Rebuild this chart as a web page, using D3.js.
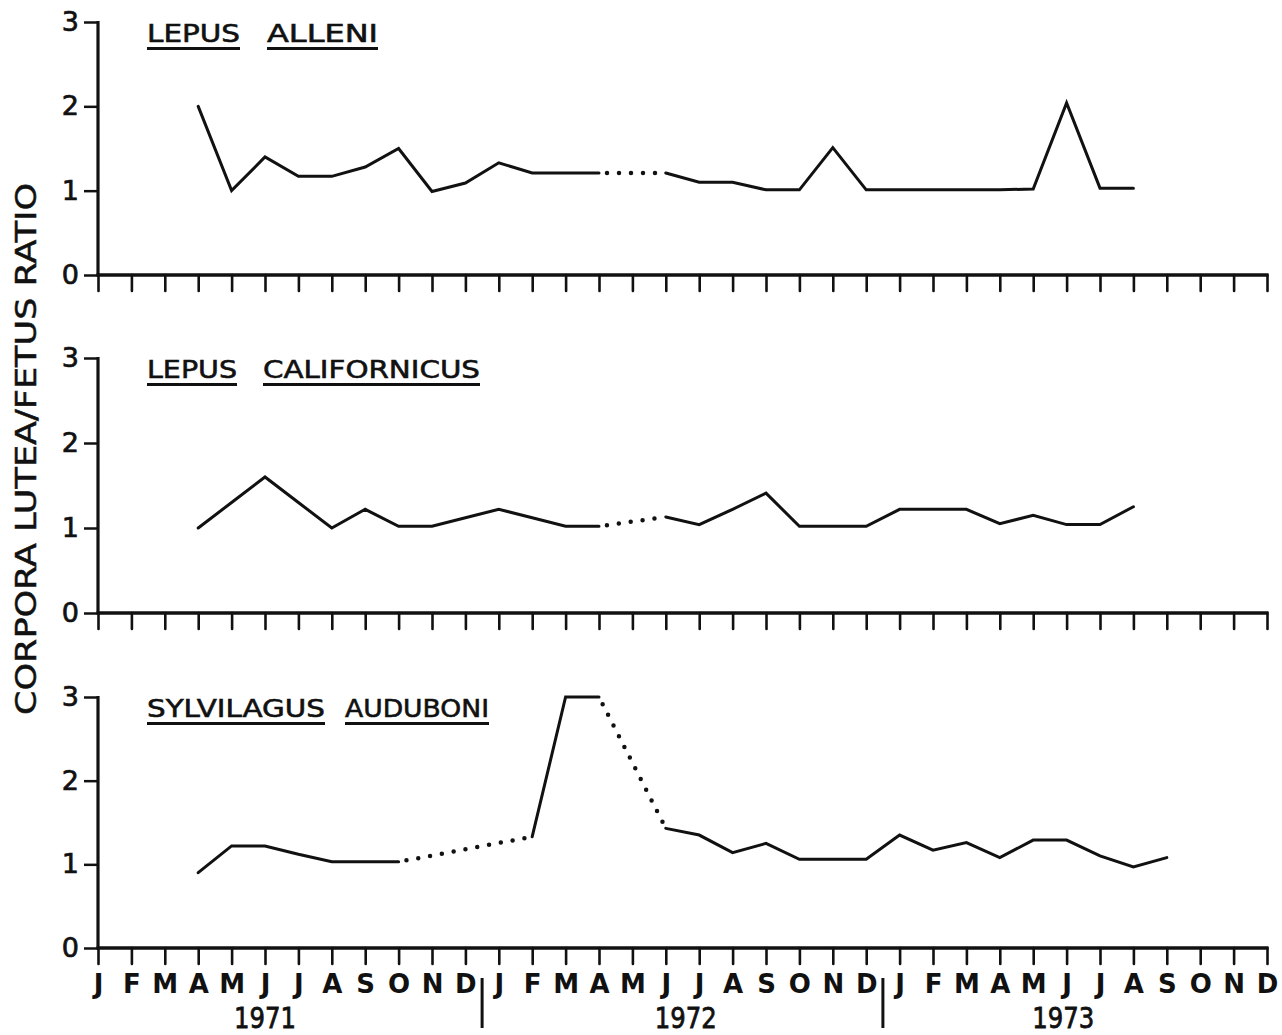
<!DOCTYPE html>
<html>
<head>
<meta charset="utf-8">
<script src="https://cdn.jsdelivr.net/npm/d3@7/dist/d3.min.js"></script>
<style>
  html, body { margin: 0; padding: 0; background: #fff; }
  svg { display: block; }
  text { font-family: "DejaVu Sans", "Liberation Sans", sans-serif; fill: #111; }
</style>
</head>
<body>
<svg id="chart" width="1282" height="1035"></svg>
<script>
// Month letters along the time axis (Jan 1971 .. Dec 1973)
const monthLetters = ["J","F","M","A","M","J","J","A","S","O","N","D"];
const years = ["1971", "1972", "1973"];
const yTicks = [0, 1, 2, 3];

// Species names, each word underlined separately
const speciesNames = [
  ["LEPUS", "ALLENI"],
  ["LEPUS", "CALIFORNICUS"],
  ["SYLVILAGUS", "AUDUBONI"]
];

// Monthly corpora lutea / fetus ratio, index 0 = Jan 1971; null = no sample
const lepusAlleni = [
  null, null, null, 2.0, 1.0, 1.4, 1.17, 1.17, 1.28, 1.5, 0.99, 1.09,
  1.33, 1.21, 1.21, 1.21, null, 1.21, 1.1, 1.1, 1.01, 1.01, 1.51, 1.01,
  1.01, 1.01, 1.01, 1.01, 1.02, 2.04, 1.03, 1.03, null, null, null, null
];
const lepusCalifornicus = [
  null, null, null, 1.0, 1.3, 1.6, 1.3, 1.0, 1.22, 1.02, 1.02, 1.12,
  1.22, 1.12, 1.02, 1.02, null, 1.13, 1.04, 1.22, 1.41, 1.02, 1.02, 1.02,
  1.22, 1.22, 1.22, 1.05, 1.15, 1.04, 1.04, 1.25, null, null, null, null
];
const sylvilagusAuduboni = [
  null, null, null, 0.9, 1.22, 1.22, 1.12, 1.03, 1.03, 1.03, null, null,
  null, 1.33, 3.0, 3.0, null, 1.43, 1.35, 1.14, 1.25, 1.06, 1.06, 1.06,
  1.35, 1.17, 1.26, 1.08, 1.29, 1.29, 1.1, 0.97, 1.08, null, null, null
];

// Months bridged by a dotted line (no sample in between)
const alleniBridges = [[15, 17]];
const californicusBridges = [[15, 17]];
const auduboniBridges = [[9, 13], [15, 17]];

const seriesList = [lepusAlleni, lepusCalifornicus, sylvilagusAuduboni];
const bridgeList = [alleniBridges, californicusBridges, auduboniBridges];

// ---- layout ----
const svg = d3.select("#chart");
const nMonths = monthLetters.length * years.length;
const x = d3.scaleLinear().domain([0, nMonths - 1]).range([98, 1267]);
const panelTop = [22, 358, 697];
const panelBottom = [275, 613, 948];
const yearLabelAt = [5.0, 17.6, 28.9];
const titleWordX = [[147, 267], [147, 263], [147, 345]];
const titleWordW = [[93, 111], [90, 217], [178, 144]];

const ink = "#111";

seriesList.forEach((values, p) => {
  const y = d3.scaleLinear().domain([0, 3]).range([panelBottom[p], panelTop[p]]);
  const g = svg.append("g");

  // y axis: spine + left ticks + labels
  const yAxis = d3.axisLeft(y).tickValues(yTicks).tickSize(14).tickPadding(5)
    .tickFormat(d3.format("d"));
  const ya = g.append("g").attr("transform", `translate(${x(0)},0)`).call(yAxis);
  ya.select(".domain").remove();
  ya.selectAll(".tick line").attr("stroke", ink).attr("stroke-width", 2.5);
  ya.selectAll(".tick text").attr("font-size", 27).attr("fill", ink)
    .attr("stroke", ink).attr("stroke-width", 0.7)
    .style("font-family", "'DejaVu Sans', sans-serif");
  g.append("line")
    .attr("x1", x(0)).attr("x2", x(0))
    .attr("y1", y(3) - 1).attr("y2", y(0))
    .attr("stroke", ink).attr("stroke-width", 3.2);

  // x axis: baseline + downward month ticks
  const xAxis = d3.axisBottom(x).tickValues(d3.range(nMonths)).tickSize(16)
    .tickFormat((d) => p === 2 ? monthLetters[d % 12] : "").tickPadding(7);
  const xa = g.append("g").attr("transform", `translate(0,${y(0)})`).call(xAxis);
  xa.select(".domain").remove();
  xa.selectAll(".tick line").attr("stroke", ink).attr("stroke-width", 2.6)
    .attr("stroke-linecap", "round");
  xa.selectAll(".tick text").attr("font-size", 26).attr("font-weight", "bold")
    .attr("fill", ink).attr("dy", "0.85em")
    .style("font-family", "'DejaVu Sans', sans-serif");
  g.append("line")
    .attr("x1", x(0) - 1.5).attr("x2", x(nMonths - 1) + 1.5)
    .attr("y1", y(0)).attr("y2", y(0))
    .attr("stroke", ink).attr("stroke-width", 3.6);

  // species name, each word underlined
  speciesNames[p].forEach((word, i) => {
    const wx = titleWordX[p][i], ww = titleWordW[p][i];
    g.append("text")
      .attr("x", wx).attr("y", y(3) + 20)
      .attr("font-size", 25)
      .attr("stroke", ink).attr("stroke-width", 0.6)
      .attr("textLength", ww).attr("lengthAdjust", "spacingAndGlyphs")
      .text(word);
    g.append("line")
      .attr("x1", wx).attr("x2", wx + ww)
      .attr("y1", y(3) + 26.5).attr("y2", y(3) + 26.5)
      .attr("stroke", ink).attr("stroke-width", 2.8);
  });

  // solid trace
  const line = d3.line()
    .defined((d) => d != null)
    .x((d, i) => x(i))
    .y((d) => y(d));
  g.append("path")
    .datum(values)
    .attr("d", line)
    .attr("fill", "none")
    .attr("stroke", ink)
    .attr("stroke-width", 3)
    .attr("stroke-linejoin", "miter")
    .attr("stroke-linecap", "round");

  // dotted bridges across months without samples
  bridgeList[p].forEach(([a, b]) => {
    g.append("path")
      .datum([[a, values[a]], [b, values[b]]])
      .attr("d", d3.line().x((d) => x(d[0])).y((d) => y(d[1])))
      .attr("fill", "none")
      .attr("stroke", ink)
      .attr("stroke-width", 4.5)
      .attr("stroke-linecap", "round")
      .attr("stroke-dasharray", "0 12")
      .attr("stroke-dashoffset", -8);
  });
});

// year labels and separators under the bottom axis
years.forEach((yr, i) => {
  svg.append("text")
    .attr("x", x(yearLabelAt[i])).attr("y", 1028)
    .attr("text-anchor", "middle")
    .attr("font-size", 29)
    .attr("stroke", ink).attr("stroke-width", 0.8)
    .attr("textLength", 62).attr("lengthAdjust", "spacingAndGlyphs")
    .text(yr);
});
[11.5, 23.5].forEach((m) => {
  svg.append("line")
    .attr("x1", x(m)).attr("x2", x(m))
    .attr("y1", 978).attr("y2", 1028)
    .attr("stroke", ink).attr("stroke-width", 3);
});

// shared y-axis title
svg.append("text")
  .attr("transform", "translate(36,449) rotate(-90)")
  .attr("text-anchor", "middle")
  .attr("font-size", 28)
  .attr("stroke", ink).attr("stroke-width", 0.5)
  .attr("textLength", 532).attr("lengthAdjust", "spacingAndGlyphs")
  .text("CORPORA LUTEA/FETUS RATIO");
</script>
</body>
</html>
